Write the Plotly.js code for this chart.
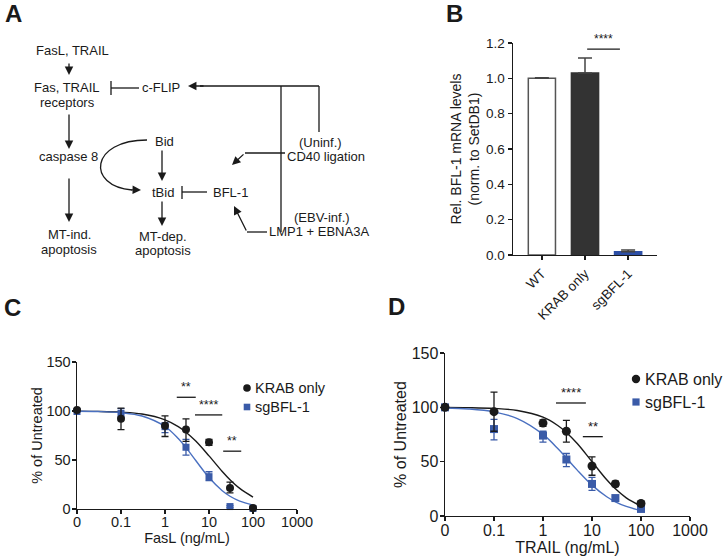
<!DOCTYPE html>
<html><head><meta charset="utf-8">
<script src="https://cdn.plot.ly/plotly-3.0.1.min.js"></script>
<style>html,body{margin:0;padding:0;background:#fff}#chart{width:724px;height:557px}</style>
</head><body><div id="chart"></div>
<script>
// ---------- Panel B data ----------
const bCategories = ['WT', 'KRAB only', 'sgBFL-1'];
const bValues = [1.0, 1.03, 0.018];
const bErrors = [0.004, 0.085, 0.010];
const bTickVals = [0, 0.2, 0.4, 0.6, 0.8, 1.0, 1.2];

// ---------- Panels C / D data ----------
const seriesNames = ['KRAB only', 'sgBFL-1'];
const doses = [0.01, 0.1, 1, 3, 10, 30, 100];
const doseTickVals = [0.01, 0.1, 1, 10, 100, 1000];
const doseTickText = ['0', '0.1', '1', '10', '100', '1000'];
const pctTickVals = [0, 50, 100, 150];

const cKrab = [101, 92, 85, 81, 68, 21.5, 1];
const cKrabErrPlus = [0, 11, 10, 11, 3, 6, 1];
const cKrabErrMinus = [0, 11, 11, 12, 3, 5, 1];
const cSg = [99.5, 97.5, 84, 63, 33, 2.5, 0.5];
const cSgErrPlus = [0, 5, 4, 8, 5, 1, 0];
const cSgErrMinus = [0, 4, 6, 8, 4, 1, 0];

const dKrab = [100, 96, 85.5, 78, 46, 29.5, 11.5];
const dKrabErrPlus = [0, 18, 3, 10, 8.5, 2.5, 2];
const dKrabErrMinus = [0, 18, 3, 10, 8.5, 2.5, 2];
const dSg = [100, 80, 74, 52, 29.5, 16.5, 6.5];
const dSgErrPlus = [0, 9, 4, 5.5, 6, 1.5, 1];
const dSgErrMinus = [0, 10, 6, 6.5, 6, 1.5, 1];

// fitted curves
const fitDoses = [0.01, 0.03, 0.1, 0.3, 1, 2, 3, 5, 10, 20, 30, 50, 100];
const cKrabFit = [99.9, 99.6, 98.8, 96.9, 91.0, 84.1, 78.4, 69.3, 54.2, 38.3, 29.9, 21.0, 12.2];
const cSgFit = [99.8, 99.5, 98.3, 94.9, 84.2, 71.9, 62.6, 49.5, 32.1, 18.6, 13.0, 8.0, 4.0];
const dKrabFit = [99.9, 99.7, 99.0, 97.1, 90.9, 83.3, 76.9, 66.7, 50.0, 33.3, 25.0, 16.7, 9.1];
const dSgFit = [99.4, 98.5, 95.8, 89.7, 75.1, 62.1, 53.4, 42.2, 28.4, 17.7, 13.1, 8.8, 5.0];

// significance labels
const sigB = ['****'];
const sigC = ['**', '****', '**'];
const sigD = ['****', '**'];

// ---------- styling / layout ----------
const W = 724, H = 557;
const FONT = 'Arial, "Liberation Sans", sans-serif';
const INK = '#1a1a1a';
const BLUE = '#3a5ba8';
const BLUE_LINE = '#4a70c0';
const P = x => x / W;          // pixel -> paper x
const Q = y => 1 - y / H;      // pixel -> paper y

const traces = [];
// Panel B bars
traces.push({
  type: 'bar', x: bCategories, y: bValues, xaxis: 'x', yaxis: 'y', width: 0.63,
  marker: {color: ['#ffffff', '#333333', '#2d4fa5'], line: {color: ['#555555', '#333333', '#2d4fa5'], width: 1.5}},
  error_y: {type: 'data', symmetric: false, array: bErrors, arrayminus: [0, 0, 0], color: '#444', thickness: 1.5, width: 7},
  showlegend: false, hoverinfo: 'skip'
});

function curve(x, y, color, xa, ya) {
  return {type: 'scatter', mode: 'lines', x: x, y: y, xaxis: xa, yaxis: ya,
    line: {color: color, width: 1.4, shape: 'spline', smoothing: 1}, showlegend: false, hoverinfo: 'skip', cliponaxis: false};
}
function pts(x, y, ep, em, color, sym, size, xa, ya, name) {
  return {type: 'scatter', mode: 'markers', x: x, y: y, xaxis: xa, yaxis: ya, name: name,
    marker: {color: color, symbol: sym, size: size},
    error_y: {type: 'data', symmetric: false, array: ep, arrayminus: em, color: color, thickness: 1.3, width: 3.5},
    showlegend: false, hoverinfo: 'skip', cliponaxis: false};
}
traces.push(curve(fitDoses, cKrabFit, INK, 'x2', 'y2'));
traces.push(curve(fitDoses, cSgFit, BLUE_LINE, 'x2', 'y2'));
traces.push(pts(doses, cSg, cSgErrPlus, cSgErrMinus, BLUE, 'square', 7, 'x2', 'y2', seriesNames[1]));
traces.push(pts(doses, cKrab, cKrabErrPlus, cKrabErrMinus, INK, 'circle', 8, 'x2', 'y2', seriesNames[0]));
traces.push(curve(fitDoses, dKrabFit, INK, 'x3', 'y3'));
traces.push(curve(fitDoses, dSgFit, BLUE_LINE, 'x3', 'y3'));
traces.push(pts(doses, dSg, dSgErrPlus, dSgErrMinus, BLUE, 'square', 8, 'x3', 'y3', seriesNames[1]));
traces.push(pts(doses, dKrab, dKrabErrPlus, dKrabErrMinus, INK, 'circle', 9, 'x3', 'y3', seriesNames[0]));

function axisBase(size) {
  return {showline: true, linecolor: INK, linewidth: 1.4, ticks: 'outside', ticklen: 4, tickwidth: 1.4,
    tickcolor: INK, showgrid: false, zeroline: false, fixedrange: true,
    tickfont: {family: FONT, size: size, color: INK}};
}

const layout = {
  width: W, height: H, margin: {l: 0, r: 0, t: 0, b: 0},
  paper_bgcolor: '#fff', plot_bgcolor: 'rgba(0,0,0,0)',
  font: {family: FONT, color: INK},
  showlegend: false, hovermode: false,
  xaxis: Object.assign(axisBase(13.5), {domain: [P(513), P(657)], anchor: 'y', type: 'category',
    range: [-0.67, 2.67], tickangle: -45}),
  yaxis: Object.assign(axisBase(13.5), {domain: [Q(255), Q(43)], anchor: 'x', range: [0, 1.2],
    tickvals: bTickVals, tickformat: '.1f',
    title: {text: 'Rel. BFL-1 mRNA levels<br>(norm. to SetDB1)', font: {family: FONT, size: 14, color: INK}, standoff: 3}}),
  xaxis2: Object.assign(axisBase(14.5), {domain: [P(77), P(297)], anchor: 'y2', type: 'log', range: [-2, 3],
    tickvals: doseTickVals, ticktext: doseTickText, ticklabelstandoff: -5,
    title: {text: 'FasL (ng/mL)', font: {family: FONT, size: 14.5, color: INK}, standoff: 0}}),
  yaxis2: Object.assign(axisBase(14.5), {domain: [Q(509), Q(362)], anchor: 'x2', range: [0, 150],
    tickvals: pctTickVals, ticklabelstandoff: -2,
    title: {text: '% of Untreated', font: {family: FONT, size: 14.5, color: INK}, standoff: 0}}),
  xaxis3: Object.assign(axisBase(16), {domain: [P(445), P(690)], anchor: 'y3', type: 'log', range: [-2, 3],
    tickvals: doseTickVals, ticktext: doseTickText, ticklabelstandoff: -5,
    title: {text: 'TRAIL (ng/mL)', font: {family: FONT, size: 16, color: INK}, standoff: 0}}),
  yaxis3: Object.assign(axisBase(16), {domain: [Q(516), Q(353)], anchor: 'x3', range: [0, 150],
    tickvals: pctTickVals, ticklabelstandoff: -2,
    title: {text: '% of Untreated', font: {family: FONT, size: 16, color: INK}, standoff: 1}}),
  shapes: [], annotations: []
};

const S = layout.shapes, A = layout.annotations;
function line(x0, y0, x1, y1, w) {
  S.push({type: 'line', xref: 'paper', yref: 'paper', x0: P(x0), y0: Q(y0), x1: P(x1), y1: Q(y1),
    line: {color: INK, width: w || 1.3}});
}
function txt(t, x, y, size, opts) {
  A.push(Object.assign({text: t, xref: 'paper', yref: 'paper', x: P(x), y: Q(y), showarrow: false,
    xanchor: 'center', yanchor: 'middle', font: {family: FONT, size: size, color: INK}}, opts || {}));
}
function arrow(tx, ty, hx, hy) {
  A.push({text: '', xref: 'paper', yref: 'paper', x: P(hx), y: Q(hy), ax: tx - hx, ay: ty - hy,
    showarrow: true, arrowhead: 2, arrowsize: 1.3, arrowwidth: 1.3, arrowcolor: INK, standoff: 0, startstandoff: 0});
}

// panel letters
txt('<b>A</b>', 13.5, 13, 24);
txt('<b>B</b>', 454, 13.5, 24);
txt('<b>C</b>', 12, 307, 24);
txt('<b>D</b>', 396, 306, 24);

// ---------- Panel A diagram ----------
const fs = 13;
txt('FasL, TRAIL', 72, 50, fs);
txt('Fas, TRAIL', 67, 88, fs);
txt('receptors', 67, 103, fs);
txt('c-FLIP', 161, 88, fs);
txt('Bid', 164, 141, fs);
txt('caspase 8', 68, 156, fs);
txt('tBid', 163, 192, fs);
txt('BFL-1', 230, 192, fs);
txt('(Uninf.)', 320, 142, fs);
txt('CD40 ligation', 285, 156, fs, {xanchor: 'left'});
txt('(EBV-inf.)', 322, 218, fs);
txt('LMP1 + EBNA3A', 267, 232, fs, {xanchor: 'left'});
txt('MT-ind.', 69, 234, fs);
txt('apoptosis', 69, 249, fs);
txt('MT-dep.', 163, 236, fs);
txt('apoptosis', 163, 250, fs);

arrow(69, 62, 69, 75);
arrow(69, 113, 69, 149);
arrow(69, 177, 69, 222);
arrow(162, 149, 162, 181);
arrow(162, 200, 162, 226);
// c-FLIP activation from right
line(319, 86, 200, 86);
arrow(205, 86, 188, 86);
line(319, 86, 319, 132);
line(281, 86, 281, 232);
// CD40 -> BFL-1
line(285, 153, 245, 153);
arrow(245, 153, 232, 165);
// LMP1 -> BFL-1
line(267, 232, 247, 232);
arrow(247, 232, 234, 206);
// inhibitions
line(139, 88, 111, 88); line(111, 81, 111, 95);
line(207, 192, 182, 192); line(182, 186, 182, 199);
// curved arrow from Bid via caspase 8 to tBid
S.push({type: 'path', xref: 'paper', yref: 'paper',
  path: `M ${P(147)},${Q(140)} C ${P(90)},${Q(140)} ${P(86)},${Q(186)} ${P(132)},${Q(190)}`,
  line: {color: INK, width: 1.3}});
arrow(130, 189.8, 141, 190);

// ---------- significance marks ----------
// B
S.push({type: 'line', xref: 'x', yref: 'y', x0: 1.05, x1: 1.81, y0: 1.165, y1: 1.165, line: {color: INK, width: 1.3}});
A.push({text: sigB[0], xref: 'x', yref: 'y', x: 1.43, y: 1.17, yanchor: 'bottom', showarrow: false, font: {family: FONT, size: 12, color: INK}});
// C (shapes take raw values on log axes; annotations take log10)
const sigCpos = [[1.85, 5.0, 114], [4.8, 20, 96], [21, 54, 59]];
sigCpos.forEach((p, i) => {
  S.push({type: 'line', xref: 'x2', yref: 'y2', x0: p[0], x1: p[1], y0: p[2], y1: p[2], line: {color: INK, width: 1.3}});
  A.push({text: sigC[i], xref: 'x2', yref: 'y2', x: (Math.log10(p[0]) + Math.log10(p[1])) / 2, y: p[2] + 1,
    yanchor: 'bottom', showarrow: false, font: {family: FONT, size: 12.5, color: INK}});
});
const sigDpos = [[1.84, 7.5, 104], [6.5, 16.6, 73]];
sigDpos.forEach((p, i) => {
  S.push({type: 'line', xref: 'x3', yref: 'y3', x0: p[0], x1: p[1], y0: p[2], y1: p[2], line: {color: INK, width: 1.3}});
  A.push({text: sigD[i], xref: 'x3', yref: 'y3', x: (Math.log10(p[0]) + Math.log10(p[1])) / 2, y: p[2] + 1,
    yanchor: 'bottom', showarrow: false, font: {family: FONT, size: 13, color: INK}});
});

// ---------- manual legends ----------
function legendCircle(cx, cy, r) {
  S.push({type: 'circle', xref: 'paper', yref: 'paper', x0: P(cx - r), x1: P(cx + r), y0: Q(cy + r), y1: Q(cy - r),
    fillcolor: INK, line: {color: INK, width: 0}});
}
function legendSquare(cx, cy, h) {
  S.push({type: 'rect', xref: 'paper', yref: 'paper', x0: P(cx - h), x1: P(cx + h), y0: Q(cy + h), y1: Q(cy - h),
    fillcolor: BLUE, line: {color: BLUE, width: 0}});
}
legendCircle(247, 388, 3.8); txt(seriesNames[0], 253, 388, 14.5, {xanchor: 'left'});
legendSquare(247, 407, 3.3); txt(seriesNames[1], 253, 407, 14.5, {xanchor: 'left'});
legendCircle(636, 379, 4.2); txt(seriesNames[0], 643, 379, 16, {xanchor: 'left'});
legendSquare(636, 402, 3.6); txt(seriesNames[1], 643, 402, 16, {xanchor: 'left'});

Plotly.newPlot('chart', traces, layout, {staticPlot: true, displayModeBar: false});
</script></body></html>
